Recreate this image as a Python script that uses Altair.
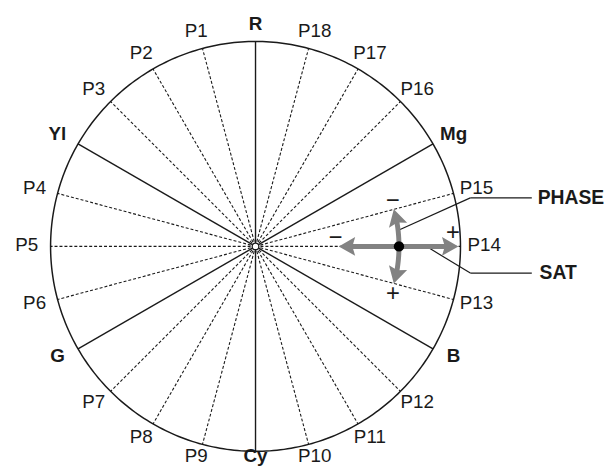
import numpy as np
import pandas as pd
import altair as alt

# ---------------- data ----------------
hue_names = ["R", "Mg", "B", "Cy", "G", "Yl"]
hue_angles = [90, 30, -30, -90, 210, 150]          # degrees, ccw from +x

point_names = ["P1", "P2", "P3", "P4", "P5", "P6", "P7", "P8", "P9",
               "P10", "P11", "P12", "P13", "P14", "P15", "P16", "P17", "P18"]
point_angles = [105, 120, 135, 165, 180, 195, 225, 240, 255,
                285, 300, 315, 345, 0, 15, 45, 60, 75]

vector_sat = 0.70          # saturation of the adjusted vector (radius units)
vector_phase = 0           # phase of the vector (degrees)
sat_arrow = [0.406, 0.990]     # SAT arrow tip positions
phase_arrow = [-15, 15]        # PHASE arrow tip angles (degrees)

sign_text = ["\u2212", "+", "\u2212", "+"]
sign_x = [0.391, 0.963, 0.671, 0.671]
sign_y = [0.040, 0.064, 0.222, -0.232]

callout_text = ["PHASE", "SAT"]
callout_anchor_x = [0.700, 0.845]
callout_anchor_y = [0.080, -0.007]
callout_elbow_x = [1.048, 1.048]
callout_y = [0.237, -0.130]
callout_end_x = [1.348, 1.348]
callout_text_x = [1.377, 1.386]

# ---------------- layout helpers ----------------
PX = 207.0          # pixels per unit radius
W, H = 606, 460
CX, CY = 250.0, 238.5   # centre inside plot area (px)
xdom = [-CX / PX, (W - CX) / PX]
ydom = [-(H - CY) / PX, CY / PX]

X = lambda f="x": alt.X(f"{f}:Q", scale=alt.Scale(domain=xdom, nice=False, zero=False), axis=None)
Y = lambda f="y": alt.Y(f"{f}:Q", scale=alt.Scale(domain=ydom, nice=False, zero=False), axis=None)

FONT = "Liberation Sans"
INK = "#1a1a1a"
GRAY = "#828282"
FS = 19

# circle outline
t = np.linspace(0, 2 * np.pi, 361)
circle_df = pd.DataFrame({"x": np.cos(t), "y": np.sin(t), "o": np.arange(361)})
circle = alt.Chart(circle_df).mark_line(color=INK, strokeWidth=1.5).encode(
    x=X(), y=Y(), order="o:Q")

# solid hue lines (centre to rim)
ha = np.radians(hue_angles)
hue_df = pd.DataFrame({"name": hue_names, "x": 0.0, "y": 0.0,
                       "x2": np.cos(ha), "y2": np.sin(ha)})
hue_lines = alt.Chart(hue_df).mark_rule(color=INK, strokeWidth=1.4).encode(
    x=X(), y=Y(), x2="x2:Q", y2="y2:Q")

# dotted lines
pa = np.radians(point_angles)
pt_df = pd.DataFrame({"name": point_names, "x": 0.0, "y": 0.0,
                      "x2": np.cos(pa), "y2": np.sin(pa)})
pt_lines = alt.Chart(pt_df).mark_rule(color=INK, strokeWidth=1.1, strokeDash=[3, 2]).encode(
    x=X(), y=Y(), x2="x2:Q", y2="y2:Q")

# labels (kept inside the drawing area at the bottom)
RX, RY, DY = 231 / PX, 224 / PX, 1 / PX
ymin_lab = ydom[0] + 10 / PX


def lab_pos(angles_rad):
    xs = RX * np.cos(angles_rad)
    ys = np.maximum(RY * np.sin(angles_rad) + DY, ymin_lab)
    return xs, ys


hx, hy = lab_pos(ha)
px_, py_ = lab_pos(pa)
hue_lab = pd.DataFrame({"name": hue_names, "x": hx, "y": hy})
pt_lab = pd.DataFrame({"name": point_names, "x": px_, "y": py_})
hue_text = alt.Chart(hue_lab).mark_text(font=FONT, fontSize=FS, fontWeight="bold", color=INK,
                                        align="center", baseline="middle").encode(
    x=X(), y=Y(), text="name:N")
pt_text = alt.Chart(pt_lab).mark_text(font=FONT, fontSize=FS, color=INK,
                                      align="center", baseline="middle").encode(
    x=X(), y=Y(), text="name:N")

# centre marker
centre = alt.Chart(pd.DataFrame({"x": [0.0], "y": [0.0]})).mark_point(
    shape="circle", size=45, stroke=INK, strokeWidth=1.3, fill="white", filled=False, opacity=1
).encode(x=X(), y=Y())

# arrows
HEAD = "M0,-1L1,0.75L0,0.45L-1,0.75Z"
HEAD_SIZE = 360
head_off = (np.sqrt(HEAD_SIZE) / 2) / PX   # tip distance from symbol origin
shaft_in = head_off * 0.7

sat_df = pd.DataFrame({"x": [sat_arrow[0] + shaft_in], "x2": [sat_arrow[1] - shaft_in],
                       "y": [0.0]})
sat_shaft = alt.Chart(sat_df).mark_rule(color=GRAY, strokeWidth=5).encode(
    x=X(), x2="x2:Q", y=Y())

r = vector_sat
d_ang = np.degrees(shaft_in / r)
arc_t = np.radians(np.linspace(phase_arrow[0] + d_ang, phase_arrow[1] - d_ang, 40) + vector_phase)
arc_df = pd.DataFrame({"x": r * np.cos(arc_t), "y": r * np.sin(arc_t), "o": np.arange(len(arc_t))})
phase_shaft = alt.Chart(arc_df).mark_line(color=GRAY, strokeWidth=5, strokeCap="butt").encode(
    x=X(), y=Y(), order="o:Q")

oa = np.degrees(head_off / r)
a_top = np.radians(phase_arrow[1] - oa)
a_bot = np.radians(phase_arrow[0] + oa)
heads_df = pd.DataFrame({
    "x": [sat_arrow[1] - head_off, sat_arrow[0] + head_off, r * np.cos(a_top), r * np.cos(a_bot)],
    "y": [0.0, 0.0, r * np.sin(a_top), r * np.sin(a_bot)],
    "ang": [90, 270, 360 - phase_arrow[1], 180 - phase_arrow[0]],
})
heads = alt.Chart(heads_df).mark_point(shape=HEAD, size=HEAD_SIZE, filled=True, fill=GRAY,
                                       strokeWidth=0, opacity=1).encode(
    x=X(), y=Y(), angle=alt.Angle("ang:Q", scale=None))

vec_df = pd.DataFrame({"x": [vector_sat * np.cos(np.radians(vector_phase))],
                       "y": [vector_sat * np.sin(np.radians(vector_phase))]})
vec_dot = alt.Chart(vec_df).mark_point(shape="circle", size=110, filled=True, fill="black",
                                       strokeWidth=0, opacity=1).encode(x=X(), y=Y())

sign_df = pd.DataFrame({"t": sign_text, "x": sign_x, "y": sign_y})
signs = alt.Chart(sign_df).mark_text(font=FONT, fontSize=24, color=INK, align="center",
                                     baseline="middle").encode(x=X(), y=Y(), text="t:N")

# callouts
seg_rows = []
for i, name in enumerate(callout_text):
    seg_rows.append({"k": name, "x": callout_anchor_x[i], "y": callout_anchor_y[i],
                     "x2": callout_elbow_x[i], "y2": callout_y[i]})
    seg_rows.append({"k": name, "x": callout_elbow_x[i], "y": callout_y[i],
                     "x2": callout_end_x[i], "y2": callout_y[i]})
seg_df = pd.DataFrame(seg_rows)
callout_lines = alt.Chart(seg_df).mark_rule(color=INK, strokeWidth=1.2).encode(
    x=X(), y=Y(), x2="x2:Q", y2="y2:Q")
ct_df = pd.DataFrame({"t": callout_text, "x": callout_text_x, "y": callout_y})
callout_txt = alt.Chart(ct_df).mark_text(font=FONT, fontSize=19.5, fontWeight="bold", color=INK,
                                         align="left", baseline="middle").encode(
    x=X(), y=Y(), text="t:N")

chart = alt.layer(
    pt_lines, hue_lines, circle, centre,
    callout_lines, sat_shaft, phase_shaft, heads, vec_dot,
    signs, hue_text, pt_text, callout_txt
).properties(
    width=W, height=H, padding=0, autosize="none", background="white"
).configure_view(stroke=None)

chart.save("out.html", embed_options={"renderer": "svg", "actions": False})
